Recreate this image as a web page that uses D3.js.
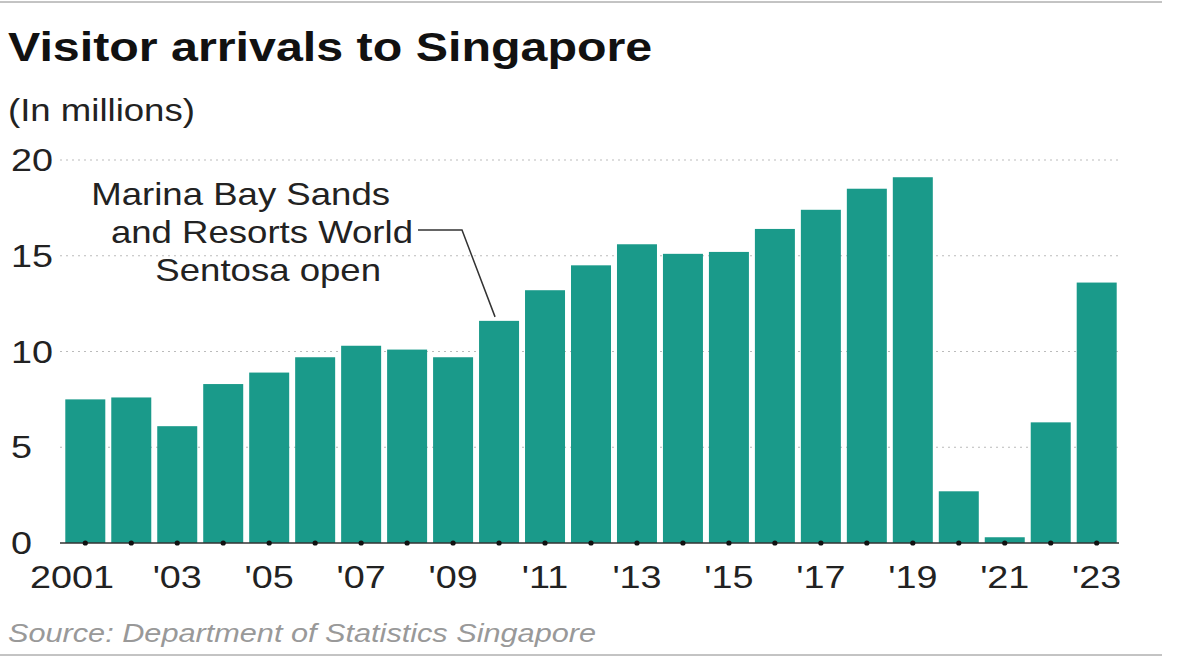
<!DOCTYPE html>
<html><head><meta charset="utf-8">
<script src="https://cdn.jsdelivr.net/npm/d3@7"></script>
<style>body{margin:0;background:#fff;font-family:"Liberation Sans",Arial,sans-serif}</style>
</head><body><svg id="c" width="1181" height="663"></svg>
<script>
const years = d3.range(2001, 2024);
const arrivals = [7.5,7.6,6.1,8.3,8.9,9.7,10.3,10.1,9.7,11.6,13.2,14.5,15.6,15.1,15.2,16.4,17.4,18.5,19.1,2.7,0.3,6.3,13.6];
const yTicks = [0,5,10,15,20];
const xLabels = {2001:"2001",2003:"'03",2005:"'05",2007:"'07",2009:"'09",2011:"'11",2013:"'13",2015:"'15",2017:"'17",2019:"'19",2021:"'21",2023:"'23"};
const note = ["Marina Bay Sands","and Resorts World","Sentosa open"];

const svg = d3.select('#c');
const x = d3.scaleBand().domain(years).range([63, 1119]).paddingInner(0.13).paddingOuter(0.05);
const y = d3.scaleLinear().domain([0,20]).range([543,160]);
const SX = 1.18;

// stretched text helper (reference type is set wide)
function txt(g, x0, y0, size, s, anchor) {
  return g.append('text').attr('transform',`translate(${x0},${y0}) scale(${SX},1)`)
    .attr('font-size',size).attr('text-anchor',anchor||'start').attr('fill','#222').text(s);
}

svg.append('line').attr('x1',0).attr('x2',1162).attr('y1',2).attr('y2',2).attr('stroke','#888');
svg.append('line').attr('x1',0).attr('x2',1162).attr('y1',655).attr('y2',655).attr('stroke','#888');
txt(svg,8,61,41,'Visitor arrivals to Singapore').attr('font-weight','bold').attr('fill','#111');
txt(svg,8,121,31,'(In millions)');

svg.selectAll('.grid').data(yTicks.filter(d=>d>0)).enter().append('line')
  .attr('x1',60).attr('x2',1119).attr('y1',d=>y(d)).attr('y2',d=>y(d))
  .attr('stroke','#bbb').attr('stroke-dasharray','2,4');
yTicks.forEach(d => txt(svg,11,y(d)+11,32,d));

svg.selectAll('.bar').data(years).enter().append('rect')
  .attr('x',d=>x(d)).attr('width',x.bandwidth())
  .attr('y',(d,i)=>y(arrivals[i])).attr('height',(d,i)=>y(0)-y(arrivals[i]))
  .attr('fill','#1a9a8a');
svg.append('line').attr('x1',60).attr('x2',1119).attr('y1',543).attr('y2',543).attr('stroke','#333').attr('stroke-width',1.5);
svg.selectAll('.dot').data(years).enter().append('circle')
  .attr('cx',d=>x(d)+x.bandwidth()/2).attr('cy',543).attr('r',2.6).attr('fill','#111');
years.filter(d=>xLabels[d]).forEach(d => {
  const cx = d===2001 ? 72 : x(d)+x.bandwidth()/2;
  txt(svg,cx,588,32,xLabels[d],'middle');
});

note.forEach((s,i) => txt(svg,[390,413,381][i],205+i*38,31,s,'end'));
const bx = x(2010)+x.bandwidth()/2;
svg.append('path').attr('d',`M418,230 L462,230 L${bx-4},${y(11.6)-4}`).attr('fill','none').attr('stroke','#333').attr('stroke-width',1.5);

txt(svg,8,642,26,'Source: Department of Statistics Singapore').attr('font-style','italic').attr('fill','#999');
</script></body></html>
